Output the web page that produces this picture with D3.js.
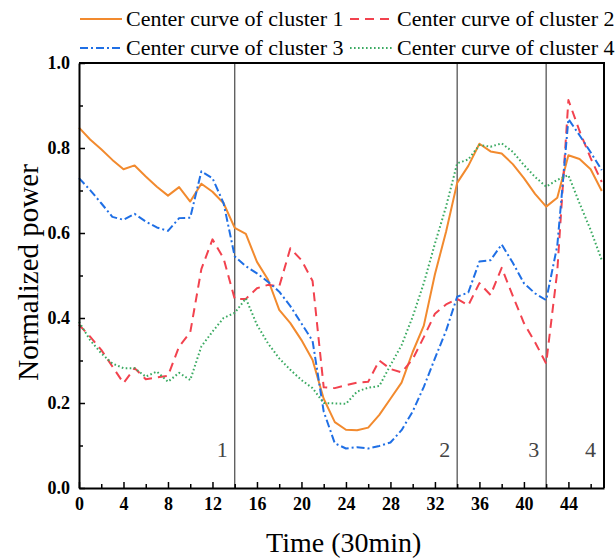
<!DOCTYPE html>
<html>
<head>
<meta charset="utf-8">
<style>
  body { margin: 0; background: #fff; }
  svg { display: block; }
  text { font-family: "Liberation Serif", "Times New Roman", serif; }
</style>
</head>
<body>
<svg width="615" height="558"></svg>
<script src="https://cdn.jsdelivr.net/npm/d3@7"></script>
<script>
// time slots 0..47 (30 min each)
var slots = d3.range(0, 48);

var cluster1 = [0.848, 0.820, 0.797, 0.772, 0.750, 0.759, 0.733, 0.709, 0.688, 0.708,
  0.674, 0.716, 0.697, 0.670, 0.612, 0.598, 0.532, 0.490, 0.419, 0.388,
  0.348, 0.301, 0.210, 0.155, 0.137, 0.136, 0.142, 0.172, 0.210, 0.248,
  0.320, 0.382, 0.503, 0.603, 0.718, 0.758, 0.810, 0.792, 0.787, 0.762,
  0.729, 0.692, 0.662, 0.683, 0.783, 0.774, 0.750, 0.699];

var cluster2 = [0.384, 0.356, 0.325, 0.286, 0.247, 0.282, 0.256, 0.260, 0.264, 0.333,
  0.366, 0.515, 0.585, 0.540, 0.445, 0.445, 0.470, 0.478, 0.474, 0.564,
  0.536, 0.487, 0.237, 0.235, 0.242, 0.248, 0.250, 0.300, 0.280, 0.272,
  0.303, 0.355, 0.410, 0.432, 0.445, 0.430, 0.482, 0.454, 0.518, 0.452,
  0.388, 0.343, 0.293, 0.510, 0.913, 0.840, 0.776, 0.720];

var cluster3 = [0.729, 0.701, 0.670, 0.638, 0.631, 0.645, 0.627, 0.613, 0.605, 0.635,
  0.636, 0.745, 0.729, 0.670, 0.545, 0.522, 0.505, 0.485, 0.462, 0.428,
  0.387, 0.346, 0.180, 0.105, 0.093, 0.096, 0.093, 0.099, 0.107, 0.136,
  0.180, 0.238, 0.305, 0.370, 0.450, 0.460, 0.533, 0.536, 0.573, 0.530,
  0.482, 0.458, 0.442, 0.570, 0.868, 0.830, 0.790, 0.748];

var cluster4 = [0.391, 0.348, 0.317, 0.293, 0.282, 0.282, 0.262, 0.274, 0.250, 0.271,
  0.254, 0.333, 0.368, 0.400, 0.412, 0.446, 0.384, 0.340, 0.305, 0.278,
  0.254, 0.235, 0.200, 0.199, 0.198, 0.227, 0.236, 0.240, 0.289, 0.336,
  0.403, 0.482, 0.575, 0.662, 0.764, 0.773, 0.807, 0.803, 0.811, 0.791,
  0.760, 0.732, 0.709, 0.725, 0.736, 0.670, 0.607, 0.536];

var seriesNames = ["Center curve of cluster 1", "Center curve of cluster 2",
                   "Center curve of cluster 3", "Center curve of cluster 4"];

// period boundaries and region labels
var boundaries = [14, 34, 42];
var regionLabels = ["1", "2", "3", "4"];

var xTicks = d3.range(0, 45, 4);
var xMinor = d3.range(2, 47, 4);
var yTicks = [0, 0.2, 0.4, 0.6, 0.8, 1.0];
var yMinor = [0.1, 0.3, 0.5, 0.7, 0.9];

var styles = [
  {color: "#F28A2E", dash: null},
  {color: "#F2424E", dash: "9,6"},
  {color: "#1F6FE5", dash: "8,3,2,3"},
  {color: "#3BAA62", dash: "1.6,2.4"}
];

var svg = d3.select("svg"),
    margin = {top: 63, right: 11, bottom: 70, left: 79},
    width = +svg.attr("width") - margin.left - margin.right,
    height = +svg.attr("height") - margin.top - margin.bottom,
    g = svg.append("g").attr("transform", "translate(" + margin.left + "," + margin.top + ")");

var x = d3.scaleLinear().domain([0, 47.2]).range([0, width]);
var y = d3.scaleLinear().domain([0, 1]).range([height, 0]);

var series = [cluster1, cluster2, cluster3, cluster4].map(function(vals, i) {
  return {name: seriesNames[i], values: vals.map(function(v, j) { return {x: slots[j], y: v}; })};
});

// region separators
g.selectAll(".sep").data(boundaries).enter().append("line")
    .attr("x1", function(d) { return x(d); })
    .attr("x2", function(d) { return x(d); })
    .attr("y1", 0).attr("y2", height)
    .attr("stroke", "#555").attr("stroke-width", 1.3);

g.selectAll(".reg").data(regionLabels).enter().append("text")
    .attr("x", function(d, i) { return i < boundaries.length ? x(boundaries[i]) - 7 : width - 8; })
    .attr("y", height - 31)
    .attr("text-anchor", "end")
    .style("font-size", "22px")
    .style("fill", "#444")
    .text(function(d) { return d; });

var line = d3.line()
    .x(function(d) { return x(d.x); })
    .y(function(d) { return y(d.y); });

g.selectAll(".curve").data(series).enter().append("path")
    .attr("fill", "none")
    .attr("stroke", function(d, i) { return styles[i].color; })
    .attr("stroke-dasharray", function(d, i) { return styles[i].dash; })
    .attr("stroke-width", 2)
    .attr("stroke-linejoin", "round")
    .attr("d", function(d) { return line(d.values); });

// axes
g.append("g")
    .attr("transform", "translate(0," + height + ")")
    .call(d3.axisBottom(x).tickValues(xTicks).tickSizeInner(-6).tickSizeOuter(0).tickPadding(9).tickFormat(d3.format("d")));
g.append("g")
    .attr("transform", "translate(0," + height + ")")
    .call(d3.axisBottom(x).tickValues(xMinor).tickSizeInner(-4).tickSizeOuter(0).tickFormat(""))
    .select(".domain").remove();

g.append("g")
    .call(d3.axisLeft(y).tickValues(yTicks).tickSizeInner(-6).tickSizeOuter(0).tickPadding(9).tickFormat(d3.format(".1f")));
g.append("g")
    .call(d3.axisLeft(y).tickValues(yMinor).tickSizeInner(-4).tickSizeOuter(0).tickFormat(""))
    .select(".domain").remove();

g.selectAll(".tick line").attr("stroke", "#000").attr("stroke-width", 1.5);
g.selectAll(".domain").attr("stroke", "#000").attr("stroke-width", 2);
g.selectAll(".tick text")
    .attr("font-family", "Liberation Serif, Times New Roman, serif")
    .style("font-family", "'Liberation Serif', 'Times New Roman', serif")
    .style("font-weight", "bold")
    .style("font-size", "18px")
    .attr("fill", "#000");

// top and right frame
g.append("path")
    .attr("d", "M0,0H" + width + "V" + height)
    .attr("fill", "none").attr("stroke", "#000").attr("stroke-width", 2);

// axis titles
svg.append("text")
    .attr("x", margin.left + x(23.8))
    .attr("y", 552)
    .attr("text-anchor", "middle")
    .style("font-size", "28px")
    .text("Time (30min)");

svg.append("text")
    .attr("transform", "translate(38," + (margin.top + height / 2 - 3) + ") rotate(-90)")
    .attr("text-anchor", "middle")
    .style("font-size", "29px")
    .text("Normalized power");

// legend, two rows of two
var legend = svg.append("g");
var items = legend.selectAll(".item").data(series).enter().append("g")
    .attr("transform", function(d, i) { return "translate(" + (80 + (i % 2) * 270) + "," + (19 + Math.floor(i / 2) * 29) + ")"; });
items.append("line")
    .attr("x1", 0).attr("x2", 42).attr("y1", 0).attr("y2", 0)
    .attr("stroke", function(d, i) { return styles[i].color; })
    .attr("stroke-dasharray", function(d, i) { return styles[i].dash; })
    .attr("stroke-width", 2);
items.append("text")
    .attr("x", function(d, i) { return i % 2 ? 47 : 46; })
    .attr("y", 7)
    .style("font-size", "22px")
    .text(function(d) { return d.name; });
</script>
</body>
</html>
